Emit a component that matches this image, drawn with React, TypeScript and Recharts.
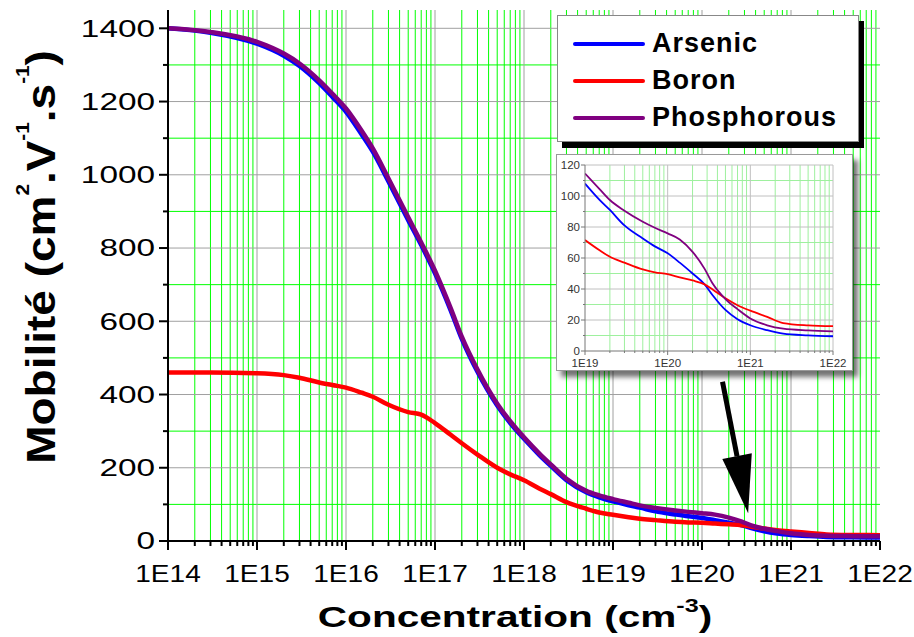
import React from "react";
import {
  LineChart,
  Line,
  XAxis,
  YAxis,
  CartesianGrid,
  Legend,
  ReferenceLine,
} from "recharts";

// concentration (cm-3) and mobility values
const concentration = [
  1e14, 3e14, 1e15, 2e15, 3e15, 5e15, 7e15, 1e16, 1.5e16, 2e16, 3e16, 5e16,
  7e16, 1e17, 1.5e17, 2e17, 3e17, 5e17, 7e17, 1e18, 1.5e18, 2e18, 3e18, 5e18,
  7e18, 1e19, 1.5e19, 2e19, 3e19, 5e19, 7e19, 1e20, 1.4e20, 2e20, 2.8e20,
  3.5e20, 5e20, 7e20, 1e21, 1.6e21, 2.5e21, 5e21, 1e22,
];
const arsenic = [
  1400, 1388, 1358, 1325, 1297, 1250, 1213, 1172, 1110, 1063, 982, 876, 808,
  731, 630, 552, 462, 370, 322, 279, 234, 205, 166, 133, 119, 108, 97.5, 91,
  81, 72.6, 67.5, 63, 57, 50, 43, 36, 26.5, 20.5, 16.6, 13.4, 11.2, 10.1, 9.5,
];
const boron = [
  460, 460, 458, 453, 446, 433, 426, 419, 405, 394, 372, 352, 345, 322, 290,
  267, 236, 200, 182, 166, 143, 128, 106, 88, 78, 71.6, 65, 60.8, 57, 52.6,
  50.8, 49.6, 47.5, 45.5, 43, 39.7, 34, 29.5, 26, 22, 18, 16.5, 16,
];
const phosphorous = [
  1400, 1390, 1363, 1331, 1304, 1258, 1222, 1181, 1120, 1072, 990, 884, 815,
  738, 636, 558, 468, 375, 327, 283, 238, 209, 170, 137, 124.5, 114.5, 104.5,
  97.4, 90.5, 83.4, 79.5, 75.9, 72, 64, 53, 43.5, 33.5, 27, 21, 16.6, 14.4,
  13.3, 12.7,
];

const seriesKeys = ["arsenic", "boron", "phosphorous"];
const seriesNames = ["Arsenic", "Boron", "Phosphorous"];
const seriesColors = ["#0000ff", "#ff0000", "#800080"];

// axis ticks
const decades = [14, 15, 16, 17, 18, 19, 20, 21, 22];
const mantissas = [2, 3, 4, 5, 6, 7, 8, 9];
const xMajor = decades.map((d) => Math.pow(10, d));
const xMinor = decades
  .slice(0, -1)
  .flatMap((d) => mantissas.map((m) => m * Math.pow(10, d)));
const yMajor = [0, 200, 400, 600, 800, 1000, 1200, 1400];
const yMinor = [100, 300, 500, 700, 900, 1100, 1300];

const insetDecades = [19, 20, 21, 22];
const insetXMajor = insetDecades.map((d) => Math.pow(10, d));
const insetXMinor = insetDecades
  .slice(0, -1)
  .flatMap((d) => mantissas.map((m) => m * Math.pow(10, d)));
const insetYMajor = [0, 20, 40, 60, 80, 100, 120];
const insetYMinor = [10, 30, 50, 70, 90, 110];

// annotation arrow (data coordinates)
const arrowFrom = { x: 1.7e20, y: 435 };
const arrowTo = { x: 3.3e20, y: 76 };

const data = concentration.map((c, i) => ({
  c,
  arsenic: arsenic[i],
  boron: boron[i],
  phosphorous: phosphorous[i],
}));
const insetData = data.filter((d) => d.c >= 1e19);

const FONT = "'Liberation Sans', Arial, sans-serif";

const isDecade = (v: number) => {
  const l = Math.log10(v);
  return Math.abs(l - Math.round(l)) < 1e-6;
};
const expLabel = (v: number) => "1E" + Math.round(Math.log10(v));

const XTick = (props: any) => {
  const { x, y, payload } = props;
  const major = isDecade(payload.value);
  return (
    <g>
      <line x1={x} x2={x} y1={y} y2={y + (major ? 9 : 5)} stroke="#000" strokeWidth={2} />
      {major && (
        <text
          transform={`translate(${x},${y + 41}) scale(1.22,1)`}
          textAnchor="middle"
          fontSize={23}
          fontFamily={FONT}
          fill="#000"
        >
          {expLabel(payload.value)}
        </text>
      )}
    </g>
  );
};

const YTick = (props: any) => {
  const { x, y, payload } = props;
  const major = payload.value % 200 === 0;
  return (
    <g>
      <line x1={x} x2={x - (major ? 9 : 5)} y1={y} y2={y} stroke="#000" strokeWidth={2} />
      {major && (
        <text
          transform={`translate(${x - 13},${y + 8.3}) scale(1.45,1)`}
          textAnchor="end"
          fontSize={23}
          fontFamily={FONT}
          fill="#000"
        >
          {payload.value}
        </text>
      )}
    </g>
  );
};

const InsetXTick = (props: any) => {
  const { x, y, payload } = props;
  const major = isDecade(payload.value);
  return (
    <g>
      <line x1={x} x2={x} y1={y} y2={y + (major ? 4 : 2)} stroke="#777" />
      {major && (
        <text x={x} y={y + 16} textAnchor="middle" fontSize={11.5} fontFamily={FONT} fill="#333">
          {expLabel(payload.value)}
        </text>
      )}
    </g>
  );
};

const InsetYTick = (props: any) => {
  const { x, y, payload } = props;
  const major = payload.value % 20 === 0;
  return (
    <g>
      <line x1={x} x2={x - (major ? 4 : 2)} y1={y} y2={y} stroke="#777" />
      {major && (
        <text x={x - 5} y={y + 4} textAnchor="end" fontSize={11.5} fontFamily={FONT} fill="#333">
          {payload.value}
        </text>
      )}
    </g>
  );
};

const XTitle = (props: any) => {
  const { viewBox } = props;
  const cx = viewBox.x + viewBox.width / 2 - 9;
  return (
    <text
      transform={`translate(${cx},${viewBox.y + 86}) scale(1.4,1)`}
      textAnchor="middle"
      fontSize={29}
      fontWeight="bold"
      fontFamily={FONT}
      fill="#000"
    >
      Concentration (cm
      <tspan fontSize={18} dy={-15}>-3</tspan>
      <tspan fontSize={29} dy={15}>)</tspan>
    </text>
  );
};

const YTitle = () => (
  <text
    transform="translate(55,257) rotate(-90) scale(1.15,1)"
    textAnchor="middle"
    fontSize={40}
    fontWeight="bold"
    fontFamily={FONT}
    fill="#000"
  >
    Mobilité (cm
    <tspan fontSize={18} dy={-26}>2</tspan>
    <tspan fontSize={40} dy={26}>.V</tspan>
    <tspan fontSize={18} dy={-26}>-1</tspan>
    <tspan fontSize={40} dy={26}>.s</tspan>
    <tspan fontSize={18} dy={-26}>-1</tspan>
    <tspan fontSize={40} dy={26}>)</tspan>
  </text>
);

const ArrowShape = (props: any) => {
  const { x1, y1, x2, y2 } = props;
  const dx = x2 - x1;
  const dy = y2 - y1;
  const len = Math.hypot(dx, dy);
  const ux = dx / len;
  const uy = dy / len;
  const headLen = 58;
  const headW = 15;
  const bx = x2 - ux * headLen;
  const by = y2 - uy * headLen;
  const pts = [
    [bx - uy * headW, by + ux * headW],
    [bx + uy * headW, by - ux * headW],
    [x2, y2],
  ]
    .map((p) => p.join(","))
    .join(" ");
  return (
    <g>
      <line x1={x1} y1={y1} x2={bx} y2={by} stroke="#000" strokeWidth={5} />
      <polygon points={pts} fill="#000" />
    </g>
  );
};

const renderLegend = (props: any) => {
  const { payload } = props;
  return (
    <div
      style={{
        width: 302,
        height: 127,
        boxSizing: "border-box",
        background: "#fff",
        border: "1px solid #888",
        boxShadow: "5px 6px 0 #000",
        paddingTop: 9,
        fontFamily: FONT,
      }}
    >
      {(payload || []).map((item: any) => (
        <div
          key={item.value}
          style={{ display: "flex", alignItems: "center", height: 37 }}
        >
          <div
            style={{
              marginLeft: 15,
              width: 72,
              height: 4,
              borderRadius: 2,
              background: item.color,
            }}
          />
          <span
            style={{
              marginLeft: 7,
              fontSize: 27,
              fontWeight: "bold",
              letterSpacing: 1,
              color: "#000",
            }}
          >
            {item.value}
          </span>
        </div>
      ))}
    </div>
  );
};

export default function App() {
  return (
    <div
      style={{
        position: "absolute",
        left: 0,
        top: 0,
        width: 914,
        height: 637,
        background: "#fff",
        fontFamily: FONT,
      }}
    >
      <LineChart
        width={914}
        height={637}
        data={data}
        margin={{ top: 10, right: 34, bottom: 0, left: 0 }}
      >
        <CartesianGrid
          verticalValues={xMinor}
          horizontalValues={yMinor}
          stroke="#00ff00"
        />
        <CartesianGrid
          verticalValues={xMajor.slice(1, -1)}
          horizontalValues={yMajor.slice(1)}
          stroke="#a0a0a0"
        />
        <XAxis
          dataKey="c"
          type="number"
          scale="log"
          domain={[1e14, 1e22]}
          allowDataOverflow
          ticks={[...xMajor, ...xMinor].sort((a, b) => a - b)}
          interval={0}
          tick={<XTick />}
          tickLine={false}
          tickSize={0}
          tickMargin={0}
          height={96}
          axisLine={{ stroke: "#000", strokeWidth: 2 }}
          label={<XTitle />}
        />
        <XAxis
          xAxisId="top"
          orientation="top"
          type="number"
          domain={[0, 1]}
          height={0}
          tick={false}
          tickLine={false}
          axisLine={{ stroke: "#000", strokeWidth: 2 }}
        />
        <YAxis
          type="number"
          domain={[0, 1450]}
          ticks={[...yMajor, ...yMinor].sort((a, b) => a - b)}
          interval={0}
          tick={<YTick />}
          tickLine={false}
          tickSize={0}
          tickMargin={0}
          width={168}
          axisLine={{ stroke: "#000", strokeWidth: 2 }}
          label={<YTitle />}
        />
        <YAxis
          yAxisId="right"
          orientation="right"
          type="number"
          domain={[0, 1]}
          width={0}
          tick={false}
          tickLine={false}
          axisLine={{ stroke: "#000", strokeWidth: 2 }}
        />
        <Legend
          layout="vertical"
          align="center"
          verticalAlign="middle"
          content={renderLegend}
          wrapperStyle={{ left: 557, top: 15, width: "auto" }}
        />
        {seriesKeys.map((k, i) => (
          <Line
            key={k}
            type="monotone"
            dataKey={k}
            name={seriesNames[i]}
            stroke={seriesColors[i]}
            strokeWidth={4.5}
            dot={false}
            isAnimationActive={false}
          />
        ))}
        <ReferenceLine
          segment={[arrowFrom, arrowTo]}
          shape={<ArrowShape />}
          ifOverflow="visible"
        />
      </LineChart>

      <div
        style={{
          position: "absolute",
          left: 556,
          top: 154,
          width: 295,
          height: 215,
          background: "#fff",
          border: "1px solid #999",
          boxShadow: "5px 6px 5px rgba(0,0,0,0.55)",
        }}
      >
        <LineChart
          width={295}
          height={215}
          data={insetData}
          margin={{ top: 10, right: 19, bottom: 0, left: 0 }}
        >
          <CartesianGrid
            verticalValues={insetXMinor}
            horizontalValues={insetYMinor}
            stroke="#9ef09e"
          />
          <CartesianGrid
            verticalValues={insetXMajor.slice(1)}
            horizontalValues={insetYMajor.slice(1)}
            stroke="#c0c0c0"
          />
          <XAxis
            dataKey="c"
            type="number"
            scale="log"
            domain={[1e19, 1e22]}
            allowDataOverflow
            ticks={[...insetXMajor, ...insetXMinor].sort((a, b) => a - b)}
            interval={0}
            tick={<InsetXTick />}
            tickLine={false}
            tickSize={0}
            tickMargin={0}
            height={19}
            axisLine={{ stroke: "#777" }}
          />
          <YAxis
            type="number"
            domain={[0, 120]}
            ticks={[...insetYMajor, ...insetYMinor].sort((a, b) => a - b)}
            interval={0}
            tick={<InsetYTick />}
            tickLine={false}
            tickSize={0}
            tickMargin={0}
            width={28}
            axisLine={{ stroke: "#777" }}
          />
          {seriesKeys.map((k, i) => (
            <Line
              key={k}
              type="monotone"
              dataKey={k}
              name={seriesNames[i]}
              stroke={seriesColors[i]}
              strokeWidth={1.8}
              dot={false}
              isAnimationActive={false}
            />
          ))}
        </LineChart>
      </div>
    </div>
  );
}
